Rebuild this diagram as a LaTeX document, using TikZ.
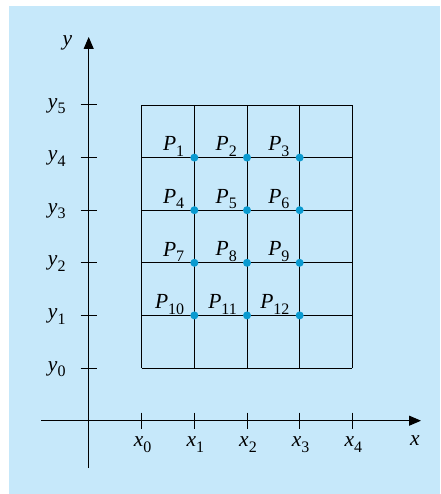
\documentclass[tikz,border=0pt]{standalone}
\usepackage{fontspec}
\setmainfont{Liberation Serif}
\usetikzlibrary{arrows.meta}
\definecolor{panel}{HTML}{C6E8FA}
\definecolor{dotc}{HTML}{0A9AD0}
\newcommand{\symsub}[2]{\textit{#1}\raisebox{-5.5pt}{\fontsize{16}{16}\selectfont #2}}
\begin{document}
\begin{tikzpicture}[x=1pt,y=-1pt,
  lbl/.style={font=\fontsize{21.5}{21.5}\selectfont, inner sep=0pt},
  gridl/.style={line width=0.9pt},
  axisl/.style={line width=1pt, -{Triangle[length=12pt,width=10pt]}},
  tickl/.style={line width=1pt},
  pt/.style={circle, fill=dotc, inner sep=0pt, minimum size=8pt},
  plbl/.style={font=\fontsize{21.5}{21.5}\selectfont, inner sep=0pt, anchor=south east}]
\useasboundingbox (0,0) rectangle (440,494);
\fill[panel] (9,6) rectangle (440,494);
% grid
\foreach \i in {0,...,4}{
  \pgfmathsetmacro{\xx}{141.7+52.65*\i}
  \coordinate (gx\i) at (\xx,0);
}
\foreach \j in {0,...,5}{
  \pgfmathsetmacro{\yy}{368-52.6*\j}
  \coordinate (gy\j) at (0,\yy);
}
\foreach \i in {0,...,4}
  \draw[gridl] (gx\i |- gy0) -- (gx\i |- gy5);
\foreach \j in {0,...,5}
  \draw[gridl] (gx0 |- gy\j) -- (gx4 |- gy\j);
% axes
\coordinate (xs) at (41,420.7);
\coordinate (xe) at (421,420.7);
\coordinate (ys) at (88.7,468);
\coordinate (ye) at (88.7,37);
\draw[axisl] (xs) -- (xe);
\draw[axisl] (ys) -- (ye);
\node[lbl] (xl) at (415,441) {\textit{x}};
\node[lbl] (yl) at (67.5,43) {\textit{y}};
% ticks
\foreach \i in {0,...,4}{
  \draw[tickl] ([yshift=8pt]gx\i |- xs) -- ([yshift=-8pt]gx\i |- xs);
  \node[lbl, anchor=base] (xt\i) at ([xshift=1pt,yshift=-26pt]gx\i |- xs) {\symsub{x}{\i}};
}
\foreach \j in {0,...,5}{
  \draw[tickl] ([xshift=-8pt]ys |- gy\j) -- ([xshift=8pt]ys |- gy\j);
  \node[lbl, anchor=east] (yt\j) at ([xshift=-23pt,yshift=-1pt]ys |- gy\j) {\symsub{y}{\j}};
}
% points
\foreach \r/\yy in {0/4,1/3,2/2,3/1}{
  \foreach \c in {1,2,3}{
    \pgfmathtruncatemacro{\n}{3*\r+\c}
    \node[pt] (p\n) at (gx\c |- gy\yy) {};
    \node[plbl] (pl\n) at ([xshift=-10pt,yshift=1pt]p\n.center) {\symsub{P}{\n}};
  }
}
\end{tikzpicture}
\end{document}
